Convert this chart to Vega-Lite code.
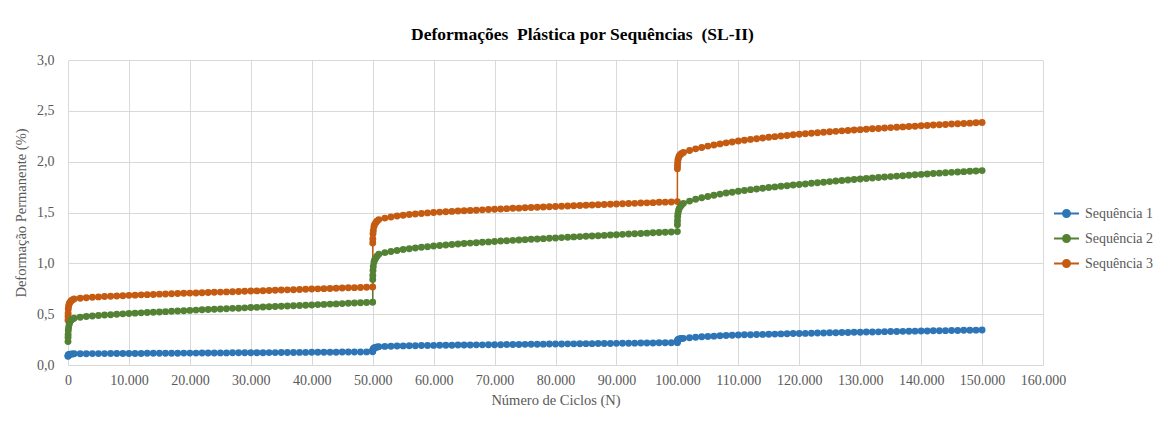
{
  "$schema": "https://vega.github.io/schema/vega-lite/v6.json",
  "autosize": {"type": "none"},
  "padding": {"left": 68, "top": 60, "right": 125, "bottom": 60},
  "width": 975,
  "height": 305,
  "background": "white",
  "config": {
    "locale": {"number": {"decimal": ",", "thousands": ".", "grouping": [3], "currency": ["", ""]}},
    "view": {"stroke": null},
    "font": "Liberation Serif"
  },
  "title": {"text": "Deformações\u00a0 Plástica por Sequências\u00a0 (SL-II)", "font": "Liberation Serif", "fontSize": 17.5, "fontWeight": "bold", "color": "#000000", "offset": 10, "dx": 27},
  "data": {"values": [
    {"n":0,"s1":0.085,"s2":0.23,"s3":0.44},
    {"n":10,"s1":0.090,"s2":0.27,"s3":0.48},
    {"n":20,"s1":0.093,"s2":0.30,"s3":0.51},
    {"n":50,"s1":0.097,"s2":0.34,"s3":0.55},
    {"n":100,"s1":0.100,"s2":0.37,"s3":0.58},
    {"n":200,"s1":0.103,"s2":0.40,"s3":0.60},
    {"n":300,"s1":0.105,"s2":0.42,"s3":0.615},
    {"n":500,"s1":0.107,"s2":0.44,"s3":0.63},
    {"n":700,"s1":0.108,"s2":0.45,"s3":0.64},
    {"n":1000,"s1":0.110,"s2":0.460,"s3":0.650},
    {"n":2000,"s1":0.111,"s2":0.470,"s3":0.657},
    {"n":3000,"s1":0.111,"s2":0.477,"s3":0.662},
    {"n":4000,"s1":0.112,"s2":0.482,"s3":0.666},
    {"n":5000,"s1":0.112,"s2":0.487,"s3":0.670},
    {"n":6000,"s1":0.112,"s2":0.491,"s3":0.673},
    {"n":7000,"s1":0.113,"s2":0.495,"s3":0.676},
    {"n":8000,"s1":0.113,"s2":0.499,"s3":0.679},
    {"n":9000,"s1":0.113,"s2":0.503,"s3":0.682},
    {"n":10000,"s1":0.114,"s2":0.507,"s3":0.685},
    {"n":11000,"s1":0.114,"s2":0.510,"s3":0.687},
    {"n":12000,"s1":0.114,"s2":0.513,"s3":0.690},
    {"n":13000,"s1":0.115,"s2":0.516,"s3":0.692},
    {"n":14000,"s1":0.115,"s2":0.519,"s3":0.694},
    {"n":15000,"s1":0.115,"s2":0.522,"s3":0.697},
    {"n":16000,"s1":0.116,"s2":0.525,"s3":0.699},
    {"n":17000,"s1":0.116,"s2":0.528,"s3":0.701},
    {"n":18000,"s1":0.116,"s2":0.531,"s3":0.703},
    {"n":19000,"s1":0.117,"s2":0.534,"s3":0.705},
    {"n":20000,"s1":0.117,"s2":0.537,"s3":0.707},
    {"n":21000,"s1":0.117,"s2":0.540,"s3":0.709},
    {"n":22000,"s1":0.118,"s2":0.543,"s3":0.711},
    {"n":23000,"s1":0.118,"s2":0.546,"s3":0.713},
    {"n":24000,"s1":0.118,"s2":0.548,"s3":0.715},
    {"n":25000,"s1":0.119,"s2":0.551,"s3":0.717},
    {"n":26000,"s1":0.119,"s2":0.554,"s3":0.719},
    {"n":27000,"s1":0.120,"s2":0.557,"s3":0.721},
    {"n":28000,"s1":0.120,"s2":0.559,"s3":0.723},
    {"n":29000,"s1":0.120,"s2":0.562,"s3":0.725},
    {"n":30000,"s1":0.121,"s2":0.565,"s3":0.727},
    {"n":31000,"s1":0.121,"s2":0.567,"s3":0.729},
    {"n":32000,"s1":0.121,"s2":0.570,"s3":0.731},
    {"n":33000,"s1":0.122,"s2":0.573,"s3":0.733},
    {"n":34000,"s1":0.122,"s2":0.575,"s3":0.735},
    {"n":35000,"s1":0.123,"s2":0.578,"s3":0.737},
    {"n":36000,"s1":0.123,"s2":0.581,"s3":0.739},
    {"n":37000,"s1":0.123,"s2":0.583,"s3":0.741},
    {"n":38000,"s1":0.124,"s2":0.586,"s3":0.743},
    {"n":39000,"s1":0.124,"s2":0.588,"s3":0.745},
    {"n":40000,"s1":0.125,"s2":0.591,"s3":0.747},
    {"n":41000,"s1":0.125,"s2":0.594,"s3":0.749},
    {"n":42000,"s1":0.125,"s2":0.596,"s3":0.751},
    {"n":43000,"s1":0.126,"s2":0.599,"s3":0.753},
    {"n":44000,"s1":0.126,"s2":0.601,"s3":0.755},
    {"n":45000,"s1":0.127,"s2":0.604,"s3":0.757},
    {"n":46000,"s1":0.127,"s2":0.607,"s3":0.759},
    {"n":47000,"s1":0.128,"s2":0.609,"s3":0.761},
    {"n":48000,"s1":0.128,"s2":0.612,"s3":0.763},
    {"n":49000,"s1":0.129,"s2":0.614,"s3":0.765},
    {"n":50000,"s1":0.130,"s2":0.617,"s3":0.767},
    {"n":50010,"s1":0.140,"s2":0.84,"s3":1.20},
    {"n":50020,"s1":0.145,"s2":0.88,"s3":1.24},
    {"n":50050,"s1":0.152,"s2":0.93,"s3":1.29},
    {"n":50100,"s1":0.158,"s2":0.97,"s3":1.32},
    {"n":50200,"s1":0.165,"s2":1.01,"s3":1.36},
    {"n":50300,"s1":0.169,"s2":1.03,"s3":1.38},
    {"n":50500,"s1":0.173,"s2":1.05,"s3":1.40},
    {"n":50700,"s1":0.177,"s2":1.07,"s3":1.415},
    {"n":51000,"s1":0.180,"s2":1.090,"s3":1.430},
    {"n":52000,"s1":0.183,"s2":1.105,"s3":1.445},
    {"n":53000,"s1":0.185,"s2":1.117,"s3":1.456},
    {"n":54000,"s1":0.187,"s2":1.127,"s3":1.465},
    {"n":55000,"s1":0.188,"s2":1.136,"s3":1.473},
    {"n":56000,"s1":0.189,"s2":1.144,"s3":1.480},
    {"n":57000,"s1":0.190,"s2":1.151,"s3":1.486},
    {"n":58000,"s1":0.191,"s2":1.158,"s3":1.491},
    {"n":59000,"s1":0.192,"s2":1.164,"s3":1.496},
    {"n":60000,"s1":0.193,"s2":1.170,"s3":1.500},
    {"n":61000,"s1":0.194,"s2":1.175,"s3":1.504},
    {"n":62000,"s1":0.194,"s2":1.180,"s3":1.507},
    {"n":63000,"s1":0.195,"s2":1.185,"s3":1.511},
    {"n":64000,"s1":0.196,"s2":1.190,"s3":1.514},
    {"n":65000,"s1":0.196,"s2":1.195,"s3":1.517},
    {"n":66000,"s1":0.197,"s2":1.199,"s3":1.520},
    {"n":67000,"s1":0.198,"s2":1.203,"s3":1.523},
    {"n":68000,"s1":0.198,"s2":1.207,"s3":1.526},
    {"n":69000,"s1":0.199,"s2":1.211,"s3":1.529},
    {"n":70000,"s1":0.200,"s2":1.215,"s3":1.532},
    {"n":71000,"s1":0.200,"s2":1.219,"s3":1.535},
    {"n":72000,"s1":0.201,"s2":1.222,"s3":1.538},
    {"n":73000,"s1":0.202,"s2":1.226,"s3":1.541},
    {"n":74000,"s1":0.202,"s2":1.229,"s3":1.543},
    {"n":75000,"s1":0.203,"s2":1.233,"s3":1.546},
    {"n":76000,"s1":0.204,"s2":1.236,"s3":1.549},
    {"n":77000,"s1":0.204,"s2":1.240,"s3":1.551},
    {"n":78000,"s1":0.205,"s2":1.243,"s3":1.554},
    {"n":79000,"s1":0.206,"s2":1.247,"s3":1.556},
    {"n":80000,"s1":0.206,"s2":1.250,"s3":1.559},
    {"n":81000,"s1":0.207,"s2":1.253,"s3":1.561},
    {"n":82000,"s1":0.208,"s2":1.256,"s3":1.564},
    {"n":83000,"s1":0.208,"s2":1.260,"s3":1.566},
    {"n":84000,"s1":0.209,"s2":1.263,"s3":1.569},
    {"n":85000,"s1":0.210,"s2":1.266,"s3":1.571},
    {"n":86000,"s1":0.210,"s2":1.269,"s3":1.574},
    {"n":87000,"s1":0.211,"s2":1.272,"s3":1.576},
    {"n":88000,"s1":0.212,"s2":1.275,"s3":1.578},
    {"n":89000,"s1":0.212,"s2":1.278,"s3":1.581},
    {"n":90000,"s1":0.213,"s2":1.282,"s3":1.583},
    {"n":91000,"s1":0.214,"s2":1.285,"s3":1.586},
    {"n":92000,"s1":0.214,"s2":1.288,"s3":1.588},
    {"n":93000,"s1":0.215,"s2":1.291,"s3":1.590},
    {"n":94000,"s1":0.216,"s2":1.294,"s3":1.593},
    {"n":95000,"s1":0.216,"s2":1.297,"s3":1.595},
    {"n":96000,"s1":0.217,"s2":1.300,"s3":1.597},
    {"n":97000,"s1":0.218,"s2":1.303,"s3":1.600},
    {"n":98000,"s1":0.218,"s2":1.306,"s3":1.602},
    {"n":99000,"s1":0.219,"s2":1.309,"s3":1.604},
    {"n":100000,"s1":0.220,"s2":1.312,"s3":1.607},
    {"n":100010,"s1":0.232,"s2":1.38,"s3":1.93},
    {"n":100020,"s1":0.237,"s2":1.42,"s3":1.96},
    {"n":100050,"s1":0.243,"s2":1.46,"s3":1.99},
    {"n":100100,"s1":0.248,"s2":1.49,"s3":2.02},
    {"n":100200,"s1":0.252,"s2":1.52,"s3":2.04},
    {"n":100300,"s1":0.255,"s2":1.54,"s3":2.055},
    {"n":100500,"s1":0.258,"s2":1.56,"s3":2.07},
    {"n":100700,"s1":0.260,"s2":1.575,"s3":2.08},
    {"n":101000,"s1":0.262,"s2":1.590,"s3":2.090},
    {"n":102000,"s1":0.268,"s2":1.612,"s3":2.110},
    {"n":103000,"s1":0.273,"s2":1.630,"s3":2.126},
    {"n":104000,"s1":0.277,"s2":1.645,"s3":2.140},
    {"n":105000,"s1":0.281,"s2":1.658,"s3":2.153},
    {"n":106000,"s1":0.284,"s2":1.670,"s3":2.164},
    {"n":107000,"s1":0.287,"s2":1.681,"s3":2.175},
    {"n":108000,"s1":0.290,"s2":1.691,"s3":2.185},
    {"n":109000,"s1":0.292,"s2":1.700,"s3":2.194},
    {"n":110000,"s1":0.295,"s2":1.709,"s3":2.203},
    {"n":111000,"s1":0.297,"s2":1.717,"s3":2.211},
    {"n":112000,"s1":0.298,"s2":1.725,"s3":2.219},
    {"n":113000,"s1":0.300,"s2":1.732,"s3":2.226},
    {"n":114000,"s1":0.301,"s2":1.739,"s3":2.233},
    {"n":115000,"s1":0.303,"s2":1.746,"s3":2.240},
    {"n":116000,"s1":0.304,"s2":1.752,"s3":2.246},
    {"n":117000,"s1":0.306,"s2":1.758,"s3":2.252},
    {"n":118000,"s1":0.307,"s2":1.764,"s3":2.258},
    {"n":119000,"s1":0.309,"s2":1.770,"s3":2.264},
    {"n":120000,"s1":0.310,"s2":1.775,"s3":2.269},
    {"n":121000,"s1":0.311,"s2":1.781,"s3":2.274},
    {"n":122000,"s1":0.313,"s2":1.787,"s3":2.279},
    {"n":123000,"s1":0.314,"s2":1.793,"s3":2.284},
    {"n":124000,"s1":0.315,"s2":1.798,"s3":2.289},
    {"n":125000,"s1":0.317,"s2":1.804,"s3":2.294},
    {"n":126000,"s1":0.318,"s2":1.809,"s3":2.298},
    {"n":127000,"s1":0.319,"s2":1.815,"s3":2.303},
    {"n":128000,"s1":0.320,"s2":1.820,"s3":2.307},
    {"n":129000,"s1":0.322,"s2":1.825,"s3":2.311},
    {"n":130000,"s1":0.323,"s2":1.830,"s3":2.315},
    {"n":131000,"s1":0.324,"s2":1.835,"s3":2.319},
    {"n":132000,"s1":0.325,"s2":1.840,"s3":2.323},
    {"n":133000,"s1":0.326,"s2":1.844,"s3":2.327},
    {"n":134000,"s1":0.328,"s2":1.849,"s3":2.331},
    {"n":135000,"s1":0.329,"s2":1.853,"s3":2.335},
    {"n":136000,"s1":0.330,"s2":1.858,"s3":2.338},
    {"n":137000,"s1":0.331,"s2":1.862,"s3":2.342},
    {"n":138000,"s1":0.332,"s2":1.866,"s3":2.346},
    {"n":139000,"s1":0.333,"s2":1.871,"s3":2.349},
    {"n":140000,"s1":0.334,"s2":1.875,"s3":2.353},
    {"n":141000,"s1":0.335,"s2":1.879,"s3":2.356},
    {"n":142000,"s1":0.336,"s2":1.883,"s3":2.360},
    {"n":143000,"s1":0.337,"s2":1.887,"s3":2.363},
    {"n":144000,"s1":0.338,"s2":1.891,"s3":2.366},
    {"n":145000,"s1":0.339,"s2":1.895,"s3":2.370},
    {"n":146000,"s1":0.340,"s2":1.898,"s3":2.373},
    {"n":147000,"s1":0.341,"s2":1.902,"s3":2.376},
    {"n":148000,"s1":0.342,"s2":1.905,"s3":2.379},
    {"n":149000,"s1":0.343,"s2":1.909,"s3":2.382},
    {"n":150000,"s1":0.344,"s2":1.912,"s3":2.385}
  ]},
  "transform": [{"fold": ["s1", "s2", "s3"], "as": ["serie", "valor"]}],
  "encoding": {
    "x": {
      "field": "n", "type": "quantitative",
      "scale": {"domain": [0, 160000], "nice": false, "zero": false},
      "axis": {
        "title": "Número de Ciclos (N)",
        "values": [0,10000,20000,30000,40000,50000,60000,70000,80000,90000,100000,110000,120000,130000,140000,150000,160000],
        "format": ",d",
        "labelOverlap": false, "labelFlush": false,
        "grid": true, "gridColor": "#d9d9d9", "gridWidth": 1,
        "domain": true, "domainColor": "#d9d9d9", "domainWidth": 1,
        "ticks": false, "labelPadding": 8,
        "labelFont": "Liberation Serif", "labelFontSize": 14, "labelColor": "#595959",
        "titleFont": "Liberation Serif", "titleFontSize": 14.5, "titleFontWeight": "normal", "titleColor": "#595959", "titlePadding": 6
      }
    },
    "y": {
      "field": "valor", "type": "quantitative",
      "scale": {"domain": [0, 3], "nice": false},
      "axis": {
        "title": "Deformação Permanente (%)",
        "values": [0, 0.5, 1, 1.5, 2, 2.5, 3],
        "format": ".1f",
        "labelOverlap": false,
        "grid": true, "gridColor": "#d9d9d9", "gridWidth": 1,
        "domain": false, "ticks": false, "labelPadding": 14,
        "labelFont": "Liberation Serif", "labelFontSize": 14, "labelColor": "#595959",
        "titleFont": "Liberation Serif", "titleFontSize": 14.5, "titleFontWeight": "normal", "titleColor": "#595959", "titlePadding": 8
      }
    },
    "color": {
      "field": "serie", "type": "nominal",
      "scale": {"domain": ["s1", "s2", "s3"], "range": ["#2E75B6", "#548235", "#C55A11"]},
      "legend": {
        "title": null, "orient": "none", "legendX": 985, "legendY": 140,
        "symbolType": "M-1,0H-0.28M0.28,0H1M-0.28,0A0.28,0.28 0 1,1 0.28,0A0.28,0.28 0 1,1 -0.28,0Z",
        "symbolSize": 625, "symbolStrokeWidth": 2, "rowPadding": 4, "labelOffset": 5,
        "labelFont": "Liberation Serif", "labelFontSize": 14, "labelColor": "#595959",
        "labelExpr": "'Sequência ' + replace(datum.label, 's', '')",
        "encode": {"symbols": {"update": {"fill": {"scale": "color", "field": "value"}, "stroke": {"scale": "color", "field": "value"}, "opacity": {"value": 1}}}}
      }
    }
  },
  "layer": [
    {"mark": {"type": "line", "strokeWidth": 1.5}},
    {"mark": {"type": "circle", "size": 48, "opacity": 1}}
  ]
}
